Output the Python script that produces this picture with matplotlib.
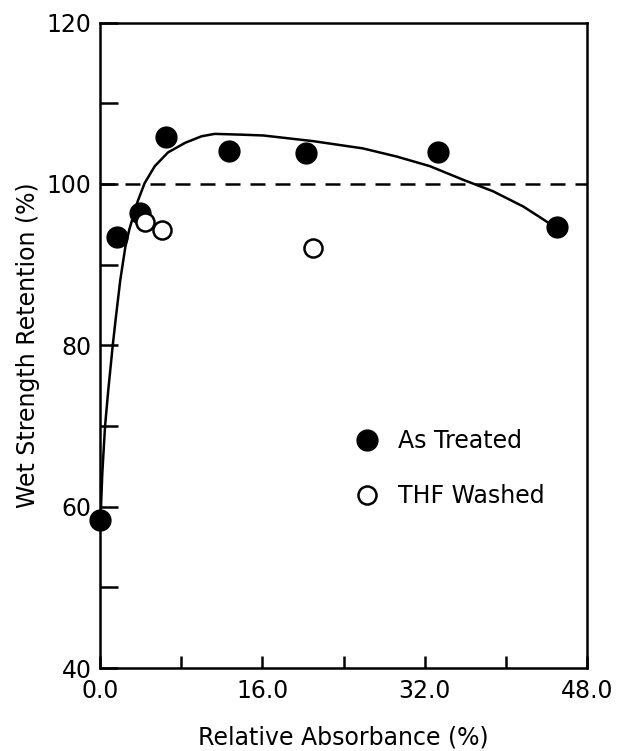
import matplotlib.pyplot as plt
import numpy as np

# As Treated (filled) and THF Washed (open) points
treated_x = [0.0, 1.7, 3.9, 6.5, 12.7, 20.3, 33.3, 45.0]
treated_y = [58.4, 93.4, 96.4, 105.8, 104.1, 103.8, 104.0, 94.6]
washed_x = [4.4, 6.1, 21.0]
washed_y = [95.3, 94.3, 92.1]

# hand-drawn trend curve
curve_x = [0.0, 0.1, 0.23, 0.5, 0.82, 1.25, 1.55, 2.0, 2.5, 2.9, 3.7, 4.4, 5.4,
           6.7, 8.4, 10.0, 11.3, 14.0, 16.1, 21.0, 25.9, 29.2, 32.5, 35.8,
           38.7, 41.7, 43.8, 44.6]
curve_y = [58.4, 60.0, 64.2, 70.0, 74.5, 79.9, 83.3, 88.1, 92.2, 94.4, 97.8,
           100.1, 102.2, 103.9, 105.1, 105.9, 106.2, 106.1, 106.0, 105.3, 104.4,
           103.4, 102.2, 100.5, 99.1, 97.2, 95.5, 94.8]

xticks = [0, 8, 16, 24, 32, 40, 48]
xticklabels = ['0.0', '', '16.0', '', '32.0', '', '48.0']
yticks = [40, 50, 60, 70, 80, 90, 100, 110, 120]
yticklabels = ['40', '', '60', '', '80', '', '100', '', '120']

plt.rcParams['font.family'] = ['DejaVu Sans']

fig = plt.figure(figsize=(6.23, 7.51), dpi=100)
ax = fig.add_axes([0.1605, 0.1105, 0.782, 0.8595])

ax.plot([0, 48], [100, 100], color='black', lw=1.8, dashes=(6, 4))
ax.plot(curve_x, curve_y, color='black', lw=1.8, solid_joinstyle='round')
ax.plot(treated_x, treated_y, 'o', color='black', ms=15, clip_on=False,
        label='As Treated')
ax.plot(washed_x, washed_y, 'o', mfc='white', mec='black', mew=1.8, ms=13,
        label='THF Washed')

ax.set_xlim(0, 48)
ax.set_ylim(40, 120)
ax.set_xticks(xticks)
ax.set_xticklabels(xticklabels)
ax.set_yticks(yticks)
ax.set_yticklabels(yticklabels)
ax.tick_params(axis='x', direction='in', length=9, width=1.8, labelsize=17, pad=8)
ax.tick_params(axis='y', direction='in', length=13, width=1.8, labelsize=17, pad=6)
for s in ax.spines.values():
    s.set_linewidth(1.8)

ax.set_xlabel('Relative Absorbance (%)', fontsize=17, labelpad=16)
ax.set_ylabel('Wet Strength Retention (%)', fontsize=17, labelpad=5)

leg = ax.legend(loc='upper left', bbox_to_anchor=(0.457, 0.403), frameon=False,
                fontsize=17, handletextpad=0.3, labelspacing=1.3, markerscale=1.0)

fig.savefig('out.png', dpi=100)
